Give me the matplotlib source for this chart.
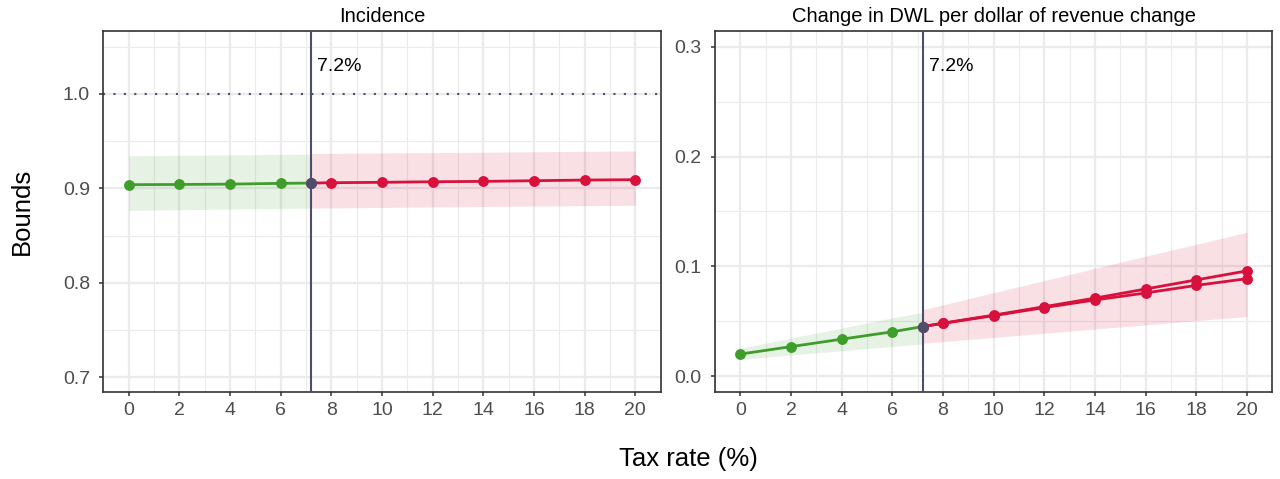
import numpy as np
import matplotlib.pyplot as plt
from matplotlib.ticker import MultipleLocator

plt.rcParams["font.family"] = ["Liberation Sans", "DejaVu Sans"]

# tax rates (%) for the two segments, split at the 7.2% threshold
rate_green = [0, 2, 4, 6, 7.2]
rate_red = [7.2, 8, 10, 12, 14, 16, 18, 20]
threshold = 7.2

# Incidence panel
inc_green = [0.9039, 0.9041, 0.9045, 0.9053, 0.9056]
inc_red = [0.9056, 0.9060, 0.9064, 0.9070, 0.9074, 0.9081, 0.9088, 0.9092]
inc_band_green_lo = [0.8767, 0.8774, 0.8781, 0.8787, 0.8791]
inc_band_green_hi = [0.9345, 0.9350, 0.9355, 0.9360, 0.9363]
inc_band_red_lo = [0.8791, 0.8793, 0.8798, 0.8803, 0.8808, 0.8813, 0.8817, 0.8822]
inc_band_red_hi = [0.9370, 0.9371, 0.9375, 0.9379, 0.9383, 0.9388, 0.9392, 0.9396]

# Change in DWL per dollar of revenue change panel
dwl_green = [0.0200, 0.0268, 0.0336, 0.0403, 0.0451]
dwl_red_hi = [0.0451, 0.0482, 0.0555, 0.0632, 0.0710, 0.0793, 0.0876, 0.0958]
dwl_red_lo = [0.0451, 0.0480, 0.0550, 0.0624, 0.0693, 0.0757, 0.0826, 0.0887]
dwl_band_green_lo = [0.0153, 0.0192, 0.0231, 0.0270, 0.0293]
dwl_band_green_hi = [0.0253, 0.0345, 0.0437, 0.0530, 0.0580]
dwl_band_red_lo = [0.0299, 0.0314, 0.0352, 0.0390, 0.0428, 0.0466, 0.0505, 0.0543]
dwl_band_red_hi = [0.0604, 0.0648, 0.0759, 0.0870, 0.0981, 0.1092, 0.1200, 0.1310]

GREEN = "#3f9e2b"
RED = "#d7103c"
SLATE = "#4b4e6d"
GRID = "#ebebeb"
TICK = "#4d4d4d"

W, H = 1280, 479
fig = plt.figure(figsize=(W / 100, H / 100), dpi=100)


def px_axes(left, top, right, bottom):
    return fig.add_axes([left / W, 1 - bottom / H, (right - left) / W, (bottom - top) / H])


def style(ax, ylim, ymajor):
    ax.set_xlim(-1, 21)
    ax.set_ylim(*ylim)
    ax.xaxis.set_major_locator(MultipleLocator(2))
    ax.xaxis.set_minor_locator(MultipleLocator(1))
    ax.yaxis.set_major_locator(MultipleLocator(ymajor))
    ax.yaxis.set_minor_locator(MultipleLocator(ymajor / 2))
    ax.grid(which="major", color=GRID, lw=1.6, zorder=0)
    ax.grid(which="minor", color=GRID, lw=0.8, zorder=0)
    ax.set_axisbelow(True)
    ax.tick_params(which="major", length=3, width=1.1, color="#333333",
                   labelcolor=TICK, labelsize=14)
    ax.tick_params(axis="y", pad=6.5)
    ax.tick_params(axis="x", pad=4)
    ax.tick_params(which="minor", length=0)
    for s in ax.spines.values():
        s.set_color("#333333")
        s.set_linewidth(1.2)


def draw(ax, band_g, band_r, lines_g, lines_r, point_y):
    ax.fill_between(rate_green, band_g[0], band_g[1], color=GREEN, alpha=0.13, lw=0, zorder=1)
    ax.fill_between(rate_red, band_r[0], band_r[1], color=RED, alpha=0.13, lw=0, zorder=1)
    for y in lines_g:
        ax.plot(rate_green, y, color=GREEN, lw=2, marker="o", ms=6.8, zorder=3)
    for y in lines_r:
        ax.plot(rate_red, y, color=RED, lw=2, marker="o", ms=6.8, zorder=3)
    ax.axvline(threshold, color=SLATE, lw=1.5, zorder=4)
    ax.plot([threshold], [point_y], "o", color=SLATE, ms=6.8, zorder=5)
    ax.text(threshold + 0.25, 0.9, f"{threshold}%", transform=ax.get_xaxis_transform(),
            fontsize=14, color="black", va="center", ha="left")


ax1 = px_axes(103.3, 30.7, 660.7, 392.3)
style(ax1, (0.684, 1.067), 0.1)
ax1.axhline(1.0, color=SLATE, lw=1.5, ls=(0, (1, 4)), zorder=2)
draw(ax1, (inc_band_green_lo, inc_band_green_hi), (inc_band_red_lo, inc_band_red_hi),
     [inc_green], [inc_red], inc_green[-1])
ax1.set_title("Incidence", fontsize=14.5, pad=6)

ax2 = px_axes(715, 30.7, 1272.3, 392.3)
style(ax2, (-0.0148, 0.3146), 0.1)
draw(ax2, (dwl_band_green_lo, dwl_band_green_hi), (dwl_band_red_lo, dwl_band_red_hi),
     [dwl_green], [dwl_red_hi, dwl_red_lo], dwl_green[-1])
ax2.set_title("Change in DWL per dollar of revenue change", fontsize=14.5, pad=6)

fig.text(688 / W, 1 - 459 / H, "Tax rate (%)", fontsize=18.5, ha="center", va="center")
fig.text(22 / W, 1 - 211 / H, "Bounds", fontsize=18.5, ha="center", va="center", rotation=90)

fig.savefig("out.png", dpi=100)
